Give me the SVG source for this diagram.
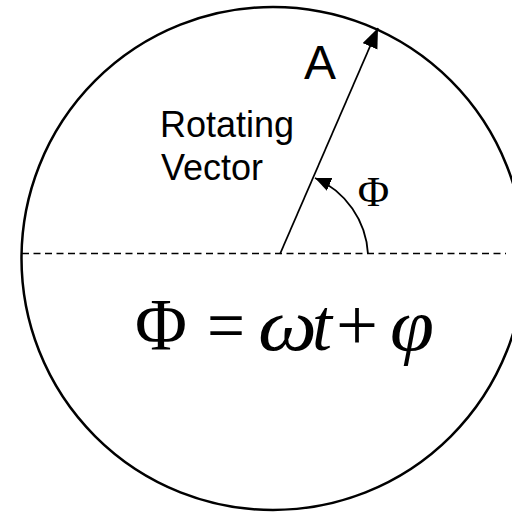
<svg xmlns="http://www.w3.org/2000/svg" width="512" height="512" viewBox="0 0 512 512">
  <defs>
    <marker id="arrowBig" markerUnits="userSpaceOnUse" markerWidth="22" markerHeight="18" refX="20" refY="8" orient="auto">
      <path d="M0,0 L20,8 L0,16 Z" fill="#000"/>
    </marker>
    <marker id="arrowSmall" markerUnits="userSpaceOnUse" markerWidth="18" markerHeight="16" refX="16" refY="7" orient="auto">
      <path d="M0,0 L16,7 L0,14 Z" fill="#000"/>
    </marker>
  </defs>
  <style>
    .sans { font-family: "Liberation Sans", Arial, sans-serif; fill: #000; }
    .serif { font-family: "Liberation Serif", "Times New Roman", serif; fill: #000; }
    .it { font-style: italic; }
    .eq { font-size: 74px; }
  </style>
  <rect width="512" height="512" fill="#fff"/>
  <g id="circle">
    <circle cx="273" cy="258.5" r="251.5" fill="none" stroke="#000" stroke-width="2.5"/>
  </g>
  <g id="connectors">
    <line x1="22" y1="253.5" x2="506" y2="253.5" stroke="#000" stroke-width="1.3" stroke-dasharray="7,4.5"/>
    <line x1="280" y1="254" x2="378" y2="28" stroke="#000" stroke-width="1.8" marker-end="url(#arrowBig)"/>
    <path d="M368,254 A88,88 0 0 0 315,178" fill="none" stroke="#000" stroke-width="1.8" marker-end="url(#arrowSmall)"/>
  </g>
  <g id="label-A">
    <text class="sans" x="320" y="79" font-size="48" text-anchor="middle">A</text>
  </g>
  <g id="label-rotating-vector">
    <text class="sans" x="160" y="137" font-size="36">Rotating</text>
    <text class="sans" x="161" y="180" font-size="36">Vector</text>
  </g>
  <g id="label-phi">
    <text class="serif" x="373.5" y="206" font-size="43" text-anchor="middle">Φ</text>
  </g>
  <g id="equation">
    <text class="serif eq" x="135" y="350" textLength="52" lengthAdjust="spacingAndGlyphs">Φ</text>
    <text class="serif eq" x="207" y="350" textLength="38" lengthAdjust="spacingAndGlyphs">=</text>
    <text class="serif eq it" x="258" y="350" textLength="59" lengthAdjust="spacingAndGlyphs">ω</text>
    <text class="serif eq it" x="312" y="350" textLength="20" lengthAdjust="spacingAndGlyphs">t</text>
    <text class="serif eq" x="336" y="350" textLength="42" lengthAdjust="spacingAndGlyphs">+</text>
    <text class="serif eq it" x="390" y="350" textLength="44" lengthAdjust="spacingAndGlyphs">φ</text>
  </g>
</svg>
